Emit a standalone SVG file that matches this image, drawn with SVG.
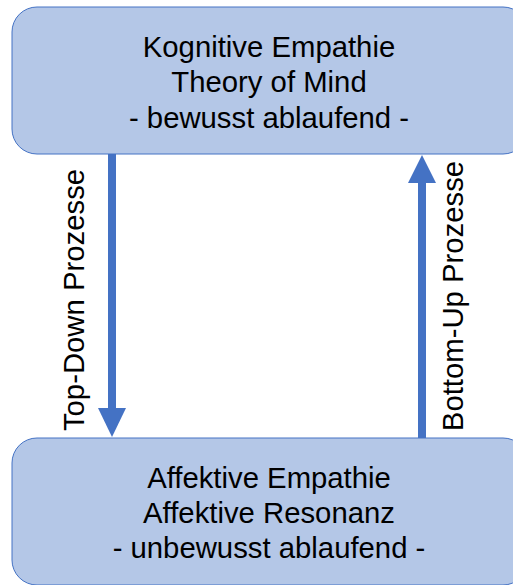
<svg xmlns="http://www.w3.org/2000/svg" width="513" height="585" viewBox="0 0 513 585">
<style>
.box{fill:#B4C7E7;stroke:#4472C4;stroke-width:1}
.t{font-family:"Liberation Sans",Arial,sans-serif;font-size:29.3px;fill:#000;text-anchor:middle}
.arr{fill:#4472C4}
</style>
<rect width="513" height="585" fill="#fff"/>
<g id="connectors">
<g id="top-down">
<rect class="arr" x="108" y="154" width="8" height="255"/>
<polygon class="arr" points="98,408 126,408 112,437"/>
<text class="t" transform="translate(84,300) rotate(-90)">Top-Down Prozesse</text>
</g>
<g id="bottom-up">
<rect class="arr" x="418" y="182" width="8" height="256"/>
<polygon class="arr" points="408,183 436,183 422,155"/>
<text class="t" transform="translate(463,296) rotate(-90)">Bottom-Up Prozesse</text>
</g>
</g>
<g id="node-kognitiv">
<rect class="box" x="12" y="7" width="516" height="147" rx="25"/>
<text class="t" x="269" y="57">Kognitive Empathie</text>
<text class="t" x="269" y="92">Theory of Mind</text>
<text class="t" x="269" y="128">- bewusst ablaufend -</text>
</g>
<g id="node-affektiv">
<rect class="box" x="12" y="438" width="516" height="147" rx="25"/>
<text class="t" x="269" y="488">Affektive Empathie</text>
<text class="t" x="269" y="523">Affektive Resonanz</text>
<text class="t" x="269" y="558">- unbewusst ablaufend -</text>
</g>
</svg>
